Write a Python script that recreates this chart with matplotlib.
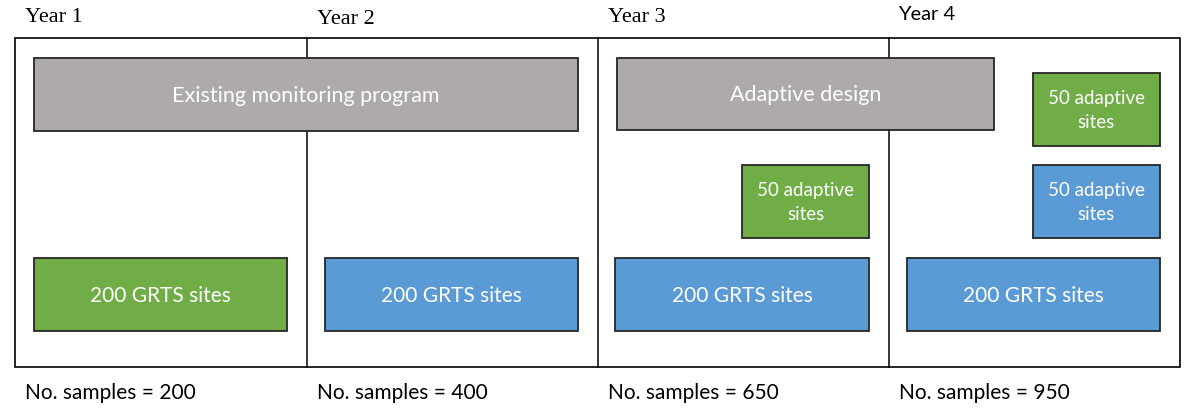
import matplotlib
matplotlib.use("Agg")
import matplotlib.pyplot as plt
from matplotlib.patches import Rectangle

years = ["Year 1", "Year 2", "Year 3", "Year 4"]
samples = [200, 400, 650, 950]
grts_sites = [200, 200, 200, 200]
adaptive_sites = {"Year 3": [50], "Year 4": [50, 50]}
program_labels = ["Existing monitoring program", "Adaptive design"]

GREY = "#AEAAAA"
GREEN = "#70AD47"
BLUE = "#5B9BD5"
EDGE = "#262626"

fig = plt.figure(figsize=(11.96, 4.18), dpi=100)
ax = fig.add_axes([0, 0, 1, 1])
ax.set_xlim(0, 1196)
ax.set_ylim(418, 0)
ax.axis("off")

sans = ["Lato", "DejaVu Sans"]

def box(x0, y0, x1, y1, color, text, fs=14):
    ax.add_patch(Rectangle((x0, y0), x1 - x0, y1 - y0, facecolor=color,
                           edgecolor=EDGE, linewidth=1.3, zorder=3))
    ax.text((x0 + x1) / 2, (y0 + y1) / 2 + 1, text, color="white", fontsize=fs,
            ha="center", va="center", family=sans, zorder=4, linespacing=1.55)

# frame and dividers
ax.add_patch(Rectangle((15, 38), 1165, 329, facecolor="none", edgecolor="black", linewidth=1.2, zorder=1))
col_x = [15, 307, 598, 889]
for x in col_x[1:]:
    ax.plot([x, x], [38, 367], color="black", linewidth=1.1, zorder=1)

# year labels
year_y = [17, 19, 17, 14]
for i, (yl, yy) in enumerate(zip(years, year_y)):
    if i < 3:
        ax.text(col_x[i] + 10, yy, yl, fontsize=16, family=["Liberation Serif"],
                ha="left", va="center", color="black")
    else:
        ax.text(col_x[i] + 9, yy, yl, fontsize=14.5, family=sans,
                ha="left", va="center", color="black")

# program boxes
box(34, 58, 578, 131, GREY, program_labels[0], 15.5)
box(617, 58, 994, 130, GREY, program_labels[1], 15.5)

# GRTS boxes
grts_x = [(34, 287), (325, 578), (615, 869), (907, 1160)]
for i, (x0, x1) in enumerate(grts_x):
    box(x0, 258, x1, 331, GREEN if i == 0 else BLUE, f"{grts_sites[i]} GRTS sites", 15)

# adaptive boxes
a3 = adaptive_sites["Year 3"]
box(742, 165, 869, 238, GREEN, f"{a3[0]} adaptive\nsites", 13.5)
a4 = adaptive_sites["Year 4"]
box(1033, 73, 1160, 146, GREEN, f"{a4[0]} adaptive\nsites", 13.5)
box(1033, 165, 1160, 238, BLUE, f"{a4[1]} adaptive\nsites", 13.5)

# sample counts
for i, s in enumerate(samples):
    ax.text(col_x[i] + 10, 393, f"No. samples = {s}", fontsize=15, family=sans,
            ha="left", va="center", color="black")

fig.savefig("out.png", dpi=100)
